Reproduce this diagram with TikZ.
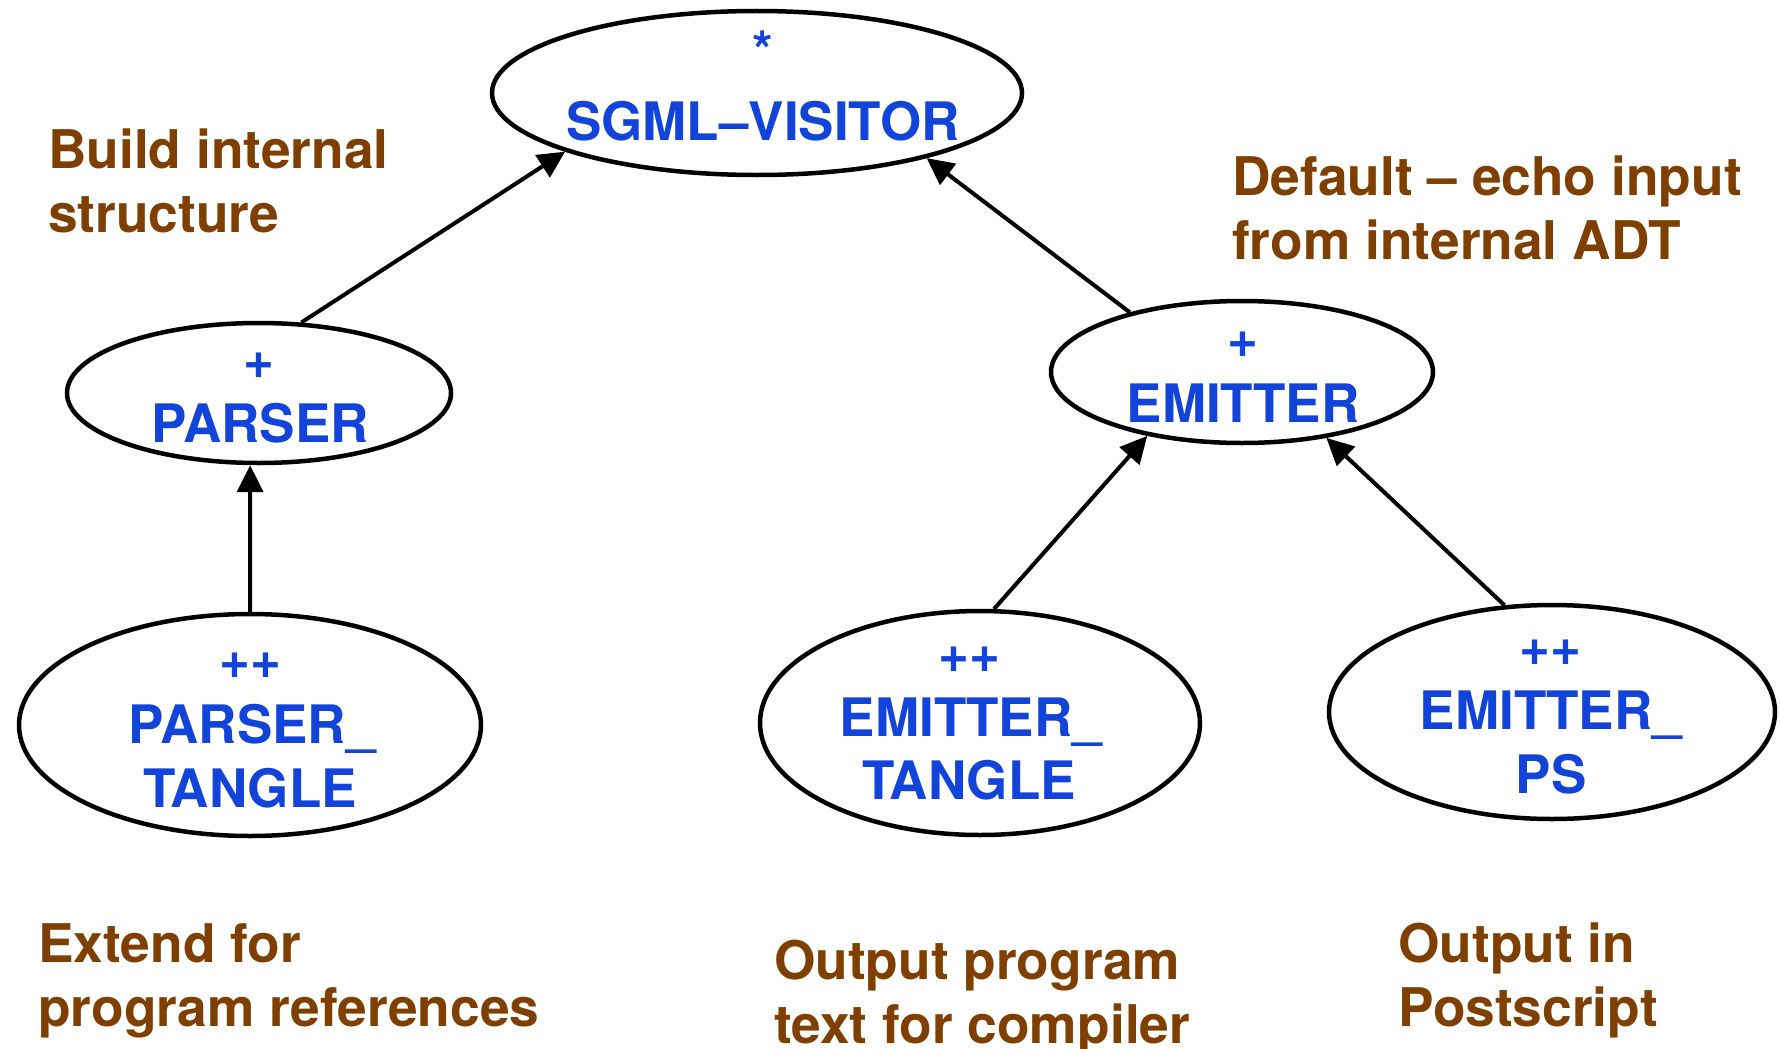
\documentclass[tikz,border=0pt]{standalone}
\usepackage{fontspec}
\setmainfont{TeX Gyre Heros}
\usetikzlibrary{arrows.meta,shapes.geometric}
\definecolor{nodeblue}{RGB}{18,68,218}
\definecolor{notebrown}{RGB}{127,63,0}
\begin{document}
\begin{tikzpicture}[x=1pt,y=-1pt,
  ell/.style={ellipse,draw=black,line width=4.5pt,inner sep=0pt},
  cls/.style={text=nodeblue,font=\fontsize{53}{64}\bfseries\selectfont,anchor=base,inner sep=0pt},
  note/.style={text=notebrown,font=\fontsize{53.3}{64}\bfseries\selectfont,anchor=base west,align=left,inner sep=0pt},
  inh/.style={line width=4pt,-{Triangle[length=27pt,width=26pt]}}
]
\useasboundingbox (0,0) rectangle (1780,1049);
% ellipses
\node[ell,minimum width=530pt,minimum height=164pt] (V) at (757,93) {};
\node[ell,minimum width=384pt,minimum height=140pt] (P) at (259,393) {};
\node[ell,minimum width=382pt,minimum height=142pt] (E) at (1242,372) {};
\node[ell,minimum width=462pt,minimum height=222pt] (PT) at (250,725) {};
\node[ell,minimum width=440pt,minimum height=224pt] (ET) at (980,723) {};
\node[ell,minimum width=446pt,minimum height=214pt] (EP) at (1552,712) {};
% class texts
\node[cls] (Vs) at (763,70) {*};
\node[cls] (Vn) at (763,140) {SGML–VISITOR};
\node[cls] (Ps) at (259,378) {+};
\node[cls] (Pn) at (260,442) {PARSER};
\node[cls] (Es) at (1243,357) {+};
\node[cls] (En) at (1243,422) {EMITTER};
\node[cls] (PTs) at (250,678) {++};
\node[cls] (PTn) at (252,743) {PARSER\_};
\node[cls] (PTm) at (250,807) {TANGLE};
\node[cls] (ETs) at (969,672) {++};
\node[cls] (ETn) at (971,736) {EMITTER\_};
\node[cls] (ETm) at (969,799) {TANGLE};
\node[cls] (EPs) at (1550,665) {++};
\node[cls] (EPn) at (1551,729) {EMITTER\_};
\node[cls] (EPm) at (1551,793) {PS};
% notes (base anchor = last line)
\node[note] (n1) at (48,232) {Build internal\\structure};
\node[note] (n2) at (1232,259) {Default – echo input\\from internal ADT};
\node[note] (n3) at (38,1026) {Extend for\\program references};
\node[note] (n4) at (774,1043) {Output program\\text for compiler};
\node[note] (n5) at (1398,1026) {Output in\\Postscript};
% inheritance arrows
\draw[inh] (P.59) -- (V.197);
\draw[inh] (E.152) -- (V.339);
\draw[inh] (PT.90) -- (P.263);
\draw[inh] (ET.83) -- (E.214);
\draw[inh] (EP.114) -- (E.322);
\end{tikzpicture}
\end{document}
